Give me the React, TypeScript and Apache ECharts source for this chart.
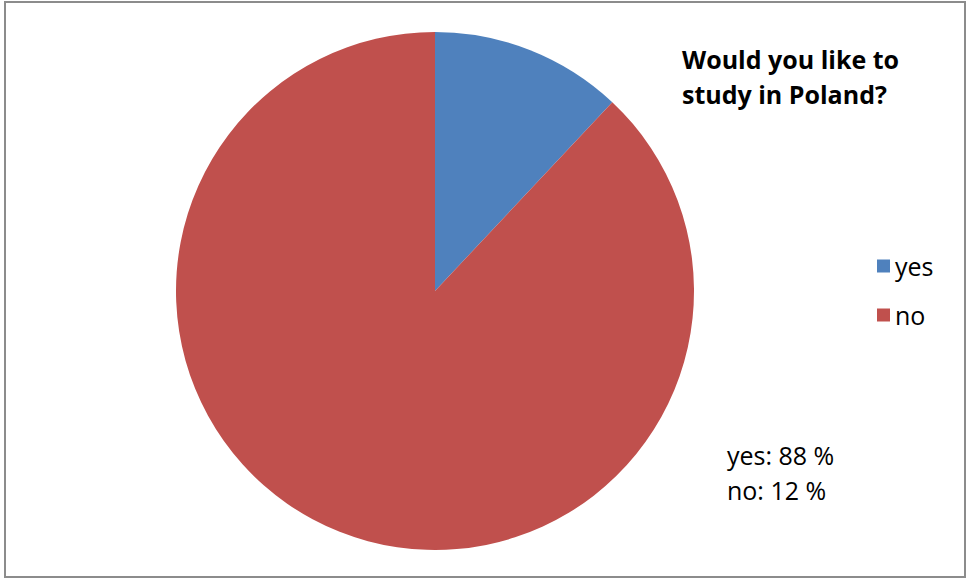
import React, { useEffect, useRef } from "react";
import * as echarts from "echarts";

const categories = ["yes", "no"];
const values = [12, 88];
const colors = ["#4F81BD", "#C0504D"];
const titleLines = ["Would you like to", "study in Poland?"];
const noteLines = ["yes: 88 %", "no: 12 %"];

export default function App() {
  const ref = useRef<HTMLDivElement>(null);
  useEffect(() => {
    if (!ref.current) return;
    const chart = echarts.init(ref.current, null, { renderer: "svg" });
    chart.setOption({
      animation: false,
      backgroundColor: "#ffffff",
      color: colors,
      title: {
        text: titleLines.join("\n"),
        left: 677,
        top: 36,
        textStyle: {
          fontFamily: "Open Sans",
          fontWeight: "bold",
          fontSize: 25,
          lineHeight: 35,
          color: "#000",
        },
      },
      legend: {
        orient: "vertical",
        left: 872,
        top: 246,
        icon: "rect",
        itemWidth: 13,
        itemHeight: 13,
        itemGap: 19,
        textStyle: { fontFamily: "Open Sans", fontSize: 25, lineHeight: 30, color: "#000" },
        data: categories,
      },
      graphic: [
        {
          type: "rect",
          shape: { x: 5, y: 2, width: 960, height: 575 },
          style: { fill: "none", stroke: "#8c8c8c", lineWidth: 2 },
          silent: true,
        },
        {
          type: "text",
          left: 727,
          top: 437,
          style: {
            text: noteLines.join("\n"),
            fontFamily: "Open Sans",
            fontSize: 25,
            lineHeight: 35,
            fill: "#000",
          },
        },
      ],
      series: [
        {
          type: "pie",
          center: [435, 291],
          radius: 259,
          startAngle: 90,
          clockwise: true,
          label: { show: false },
          labelLine: { show: false },
          itemStyle: { borderWidth: 0 },
          data: categories.map((c, i) => ({ name: c, value: values[i] })),
        },
      ],
    });
    return () => chart.dispose();
  }, []);
  return (
    <div
      ref={ref}
      style={{ position: "fixed", left: 0, top: 0, width: 967, height: 579 }}
    />
  );
}
